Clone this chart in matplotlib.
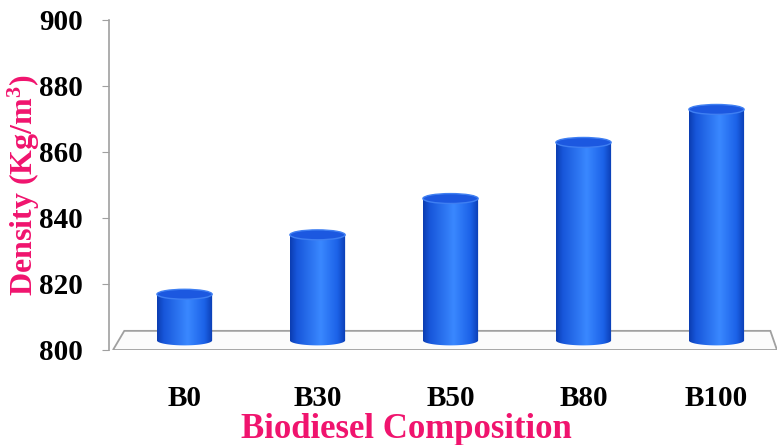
import numpy as np
import matplotlib.pyplot as plt
from matplotlib.patches import Ellipse, Polygon, PathPatch
from matplotlib.path import Path
from matplotlib.colors import LinearSegmentedColormap

# densities of the diesel / biodiesel blends
blends = ['B0', 'B30', 'B50', 'B80', 'B100']
density = [814, 832, 843, 860, 870]

pink = '#f0146e'
grid_grey = '#a0a0a0'

# serif digits in the superscript of the unit
plt.rcParams['mathtext.fontset'] = 'custom'
plt.rcParams['mathtext.rm'] = 'Liberation Serif:bold'
plt.rcParams['mathtext.it'] = 'Liberation Serif:bold'
plt.rcParams['mathtext.bf'] = 'Liberation Serif:bold'

fig = plt.figure(figsize=(7.77, 4.45), dpi=100)
ax = fig.add_axes([109 / 777, 95 / 445, 668 / 777, 330 / 445])

xlo, xhi = -0.568, 4.455
ymin, ymax = 800, 900

# floor of the 3d chart (front edge at 800, back edge a bit higher and to the right)
depth_dx, depth_dy = 0.085, 5.8
floor = Polygon([(xlo + 0.03, ymin), (xhi, ymin), (xhi - 0.05, ymin + depth_dy),
                 (xlo + 0.03 + depth_dx, ymin + depth_dy)],
                closed=True, facecolor='#fbfbfb', edgecolor=grid_grey, lw=1.3, zorder=1)
ax.add_patch(floor)

# shading across a cylinder body
body_cmap = LinearSegmentedColormap.from_list(
    'cyl', [(0, '#0b3cb0'), (0.12, '#1756da'), (0.55, '#3a88ff'),
            (0.85, '#1c62e8'), (1, '#0a3cb2')])
grad = np.linspace(0, 1, 256).reshape(1, -1)

w = 0.415          # cylinder width in data units
eh = 3.0           # ellipse height in data units
dy = depth_dy / 2  # columns sit mid-depth on the floor

for i, v in enumerate(density):
    xc = i
    bot = ymin + dy
    top = v + dy
    x0, x1 = xc - w / 2, xc + w / 2
    # outline of the body: sides plus lower half of the base ellipse
    t = np.linspace(np.pi, 2 * np.pi, 60)
    ex = xc + (w / 2) * np.cos(t)
    ey = bot + (eh / 2) * np.sin(t)
    verts = [(x0, top)] + list(zip(ex, ey)) + [(x1, top), (x0, top)]
    codes = [Path.MOVETO] + [Path.LINETO] * (len(verts) - 2) + [Path.CLOSEPOLY]
    clip = PathPatch(Path(verts, codes), facecolor='none', edgecolor='none')
    ax.add_patch(clip)
    im = ax.imshow(grad, cmap=body_cmap, extent=[x0, x1, bot - eh, top],
                   aspect='auto', zorder=3, interpolation='bicubic')
    im.set_clip_path(clip)
    # lid
    ax.add_patch(Ellipse((xc, top), w, eh, facecolor='#1c58e0',
                         edgecolor='#3f7ff2', lw=1.0, zorder=4))

ax.set_xlim(xlo, xhi)
ax.set_ylim(ymin, ymax)

ax.set_xticks(range(len(blends)))
ax.set_xticklabels(blends)
ax.set_yticks(np.arange(800, 901, 20))

for s in ['top', 'right', 'bottom']:
    ax.spines[s].set_visible(False)
ax.spines['left'].set_color(grid_grey)
ax.spines['left'].set_linewidth(1.2)

ax.tick_params(axis='y', direction='out', length=5, color=grid_grey, pad=14)
ax.tick_params(axis='x', length=0, pad=25)
for lab in ax.get_xticklabels() + ax.get_yticklabels():
    lab.set_fontfamily('Liberation Serif')
    lab.set_fontweight('bold')
    lab.set_fontsize(21)

ax.set_ylabel('Density (Kg/m$^3$)', color=pink, fontsize=23, fontweight='bold',
              fontfamily='Liberation Serif')
ax.yaxis.set_label_coords(-0.1, 0.5)
ax.set_xlabel('Biodiesel Composition', color=pink, fontsize=25, fontweight='bold',
              fontfamily='Liberation Serif')
ax.xaxis.set_label_coords(0.445, -0.242)
ax.xaxis.label.set_va('center')

fig.savefig('out.png', dpi=100)
